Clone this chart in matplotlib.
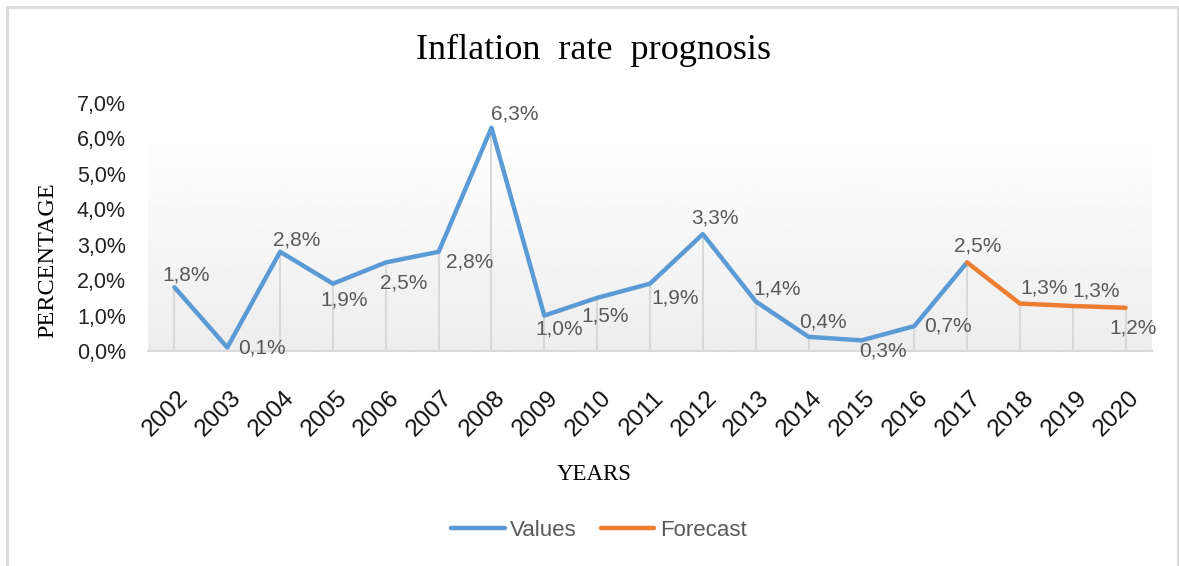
import numpy as np
import matplotlib.pyplot as plt
from matplotlib.patches import Rectangle
import matplotlib.transforms as mtransforms

years = [str(y) for y in range(2002, 2021)]
values = [1.8, 0.1, 2.8, 1.9, 2.5, 2.8, 6.3, 1.0, 1.5, 1.9, 3.3, 1.4, 0.4, 0.3, 0.7, 2.5]
forecast_years = years[15:]
forecast = [2.5, 1.34, 1.27, 1.22]
forecast_labels = ['2,5%', '1,3%', '1,3%', '1,2%']

# label offsets (pixels), one per year
label_offsets = [(12, 12), (35, -1), (17, 12), (11, -16), (18, -21), (31, -10),
                 (23, 14), (15, -13), (8, -18), (25, -14), (12, 16), (21, 12),
                 (14, 15), (22, -11), (34, 0), (11, 16), (24, 16), (23, 15), (7, -20)]

W, H = 1179, 566
fig = plt.figure(figsize=(W / 100, H / 100), dpi=100)
ax = fig.add_axes([148 / W, 1 - 351 / H, (1152 - 148) / W, (351 - 103) / H])

sans = 'Liberation Sans'
serif = 'Liberation Serif'
blue = '#5B9BD5'
orange = '#ED7D31'
gray = '#595959'

x_all = np.arange(len(years))
x_val = x_all[:len(values)]
x_fc = x_all[len(values) - 1:]

# gradient background of plot area
grad = np.linspace(1.0, 0.93, 256).reshape(-1, 1)
trans = mtransforms.blended_transform_factory(ax.transAxes, ax.transAxes)
ax.imshow(grad, cmap='gray', vmin=0, vmax=1, aspect='auto',
          extent=[0, 1, 0, (351 - 132) / (351 - 103)], transform=trans, zorder=0)

# drop lines
all_vals = values + forecast[1:]
ax.vlines(x_all, 0, all_vals, color='#d9d9d9', lw=1.5, zorder=1)

ax.plot(x_val, values, color=blue, lw=3.2, solid_capstyle='round',
        solid_joinstyle='round', label='Values', zorder=3)
ax.plot(x_fc, forecast, color=orange, lw=3.2, solid_capstyle='round',
        solid_joinstyle='round', label='Forecast', zorder=3)

labels = [f'{v:.1f}%'.replace('.', ',') for v in values] + forecast_labels[1:]
for i, (xv, yv, lab) in enumerate(zip(x_all, all_vals, labels)):
    dx, dy = label_offsets[i]
    ax.annotate(lab, (xv, yv), xytext=(dx * 0.72, dy * 0.72), textcoords='offset points',
                ha='center', va='center', fontsize=15, color=gray, family=sans, zorder=4)

ax.set_xlim(-0.5, len(years) - 0.5)
ax.set_ylim(0, 7)
ax.set_yticks(np.arange(0, 8, 1))
ax.set_yticklabels([f'{v},0%' for v in range(8)], fontsize=15.5, family=sans, color='#222222')
ax.set_xticks(x_all)
ax.set_xticklabels(years, rotation=45, ha='right', rotation_mode='anchor',
                   fontsize=17.5, family=sans, color='#111111')
ax.tick_params(axis='y', length=0, pad=16)
ax.tick_params(axis='x', length=0, pad=26)
for lab in ax.get_xticklabels():
    lab.set_transform(lab.get_transform() + mtransforms.ScaledTranslation(2 / 72, 0, fig.dpi_scale_trans))

for s in ['top', 'right', 'left']:
    ax.spines[s].set_visible(False)
ax.spines['bottom'].set_color('#d9d9d9')
ax.spines['bottom'].set_linewidth(1.5)
ax.patch.set_visible(False)

fig.text(593 / W, 1 - 50 / H, 'Inflation  rate  prognosis', ha='center', va='center',
         fontsize=26, family=serif)
fig.text(48 / W, 1 - 260 / H, 'PERCENTAGE', rotation=90, ha='center', va='center',
         fontsize=17.5, family=serif)
fig.text(594 / W, 1 - 474 / H, 'YEARS', ha='center', va='center', fontsize=16.5, family=serif)

leg = fig.legend(loc='center', bbox_to_anchor=(599 / W, 1 - 530 / H), ncol=2, frameon=False,
                 prop={'family': sans, 'size': 16}, handlelength=2.4, columnspacing=1.1,
                 handletextpad=0.25)
for t in leg.get_texts():
    t.set_color(gray)

fig.patches.append(Rectangle((7 / W, -0.05), (1178 - 7) / W, 1 - 7 / H + 0.05,
                             transform=fig.transFigure, fill=False, ec='#d9d9d9', lw=2))

fig.savefig('out.png', dpi=100)
